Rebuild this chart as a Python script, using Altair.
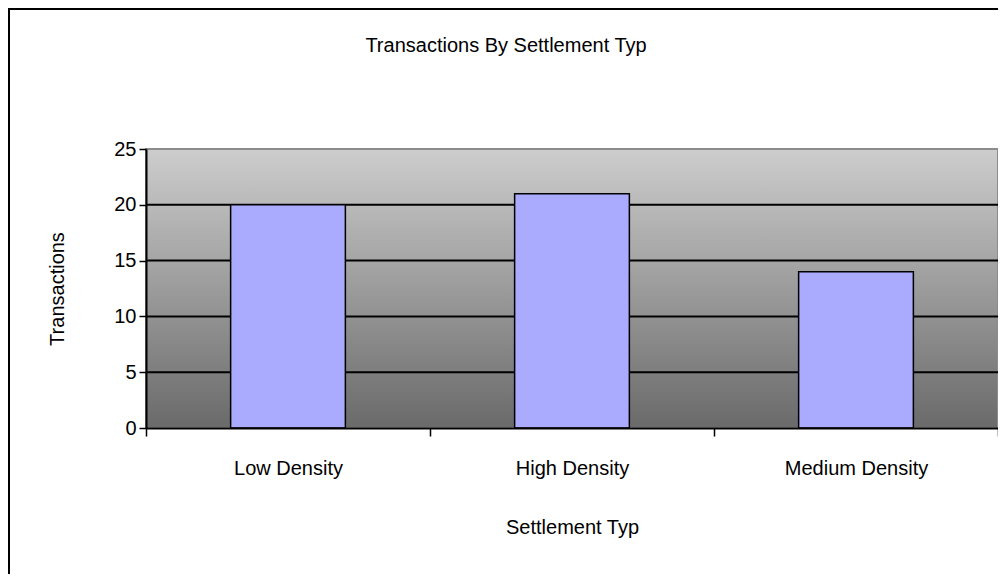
import altair as alt
import pandas as pd

categories = ["Low Density", "High Density", "Medium Density"]
transactions = [20, 21, 14]
y_ticks = [0, 5, 10, 15, 20, 25]
grid_values = [5, 10, 15, 20]

df = pd.DataFrame({"Settlement": categories, "Transactions": transactions})
grid_df = pd.DataFrame({"v": grid_values})
frame_df = pd.DataFrame({"k": [0]})

FONT = "Liberation Sans"
PAD_L, PAD_T = 138, 141

gradient = alt.LinearGradient(
    gradient="linear",
    stops=[alt.GradientStop(color="#cdcdcd", offset=0),
           alt.GradientStop(color="#6a6a6a", offset=1)],
    x1=0, x2=0, y1=0, y2=1,
)

x_enc = alt.X(
    "Settlement:N", sort=categories,
    scale=alt.Scale(paddingInner=0, paddingOuter=0),
    axis=alt.Axis(
        title="Settlement Typ", tickBand="extent", labelAngle=0,
        labelFontSize=20, labelPadding=22, labelFont=FONT, labelColor="black",
        tickSize=8, tickColor="black", tickWidth=1.5,
        domainColor="black", domainWidth=2,
        titlePadding=39, titleFontSize=20, titleFont=FONT,
        titleFontWeight="normal", titleColor="black", grid=False, zindex=1,
    ),
)
y_scale = alt.Scale(domain=[0, 25], nice=False)
y_enc = alt.Y(
    "Transactions:Q",
    scale=y_scale,
    axis=alt.Axis(
        values=y_ticks, title="Transactions",
        labelFontSize=20, labelPadding=3, labelFont=FONT, labelColor="black",
        tickSize=7, tickColor="black", tickWidth=1.5,
        domainColor="black", domainWidth=2, grid=False, zindex=1,
        titlePadding=46, titleFontSize=20, titleFont=FONT,
        titleFontWeight="normal", titleColor="black",
    ),
)

# outer chart frame (decoration, drawn around the whole chart)
frame = alt.Chart(frame_df).mark_rect(
    fill=None, stroke="black", strokeWidth=2
).encode(
    x=alt.value(-(PAD_L - 1)), x2=alt.value({"expr": "width + 40"}),
    y=alt.value(-(PAD_T - 1)), y2=alt.value({"expr": "height + 300"}),
)

background = alt.Chart(frame_df).mark_rect(
    fill=gradient, stroke="#8c8c8c", strokeWidth=2
).encode(
    x=alt.value(0), x2=alt.value("width"), y=alt.value(0), y2=alt.value("height")
)

grid = alt.Chart(grid_df).mark_rule(color="black", strokeWidth=2).encode(
    x=alt.value(0), x2=alt.value("width"),
    y=alt.Y("v:Q", scale=y_scale),
)

bars = alt.Chart(df).mark_bar(
    width=alt.RelativeBandSize(0.404), color="#aaaaff", stroke="black", strokeWidth=1.5
).encode(x=x_enc, y=y_enc)

chart = alt.layer(frame, background, grid, bars).properties(
    width=852,
    height=279,
    autosize="none",
    padding={"left": PAD_L, "top": PAD_T, "right": 0, "bottom": 146},
    title=alt.TitleParams(
        "Transactions By Settlement Typ", fontSize=20, font=FONT,
        fontWeight="normal", color="black", anchor="middle", frame="group",
        dx=-66, offset=-48,
    ),
).configure_view(stroke=None).configure(background="white")

chart.save("out.html", embed_options={"renderer": "svg", "actions": False})
